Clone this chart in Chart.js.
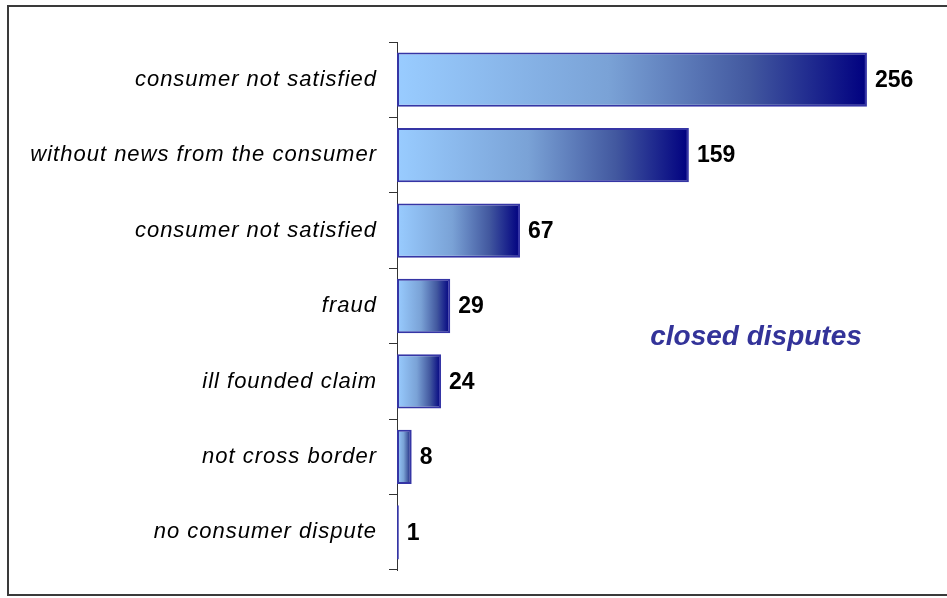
<!DOCTYPE html>
<html>
<head>
<meta charset="utf-8">
<title>closed disputes</title>
<script src="https://cdn.jsdelivr.net/npm/chart.js@4.4.1/dist/chart.umd.min.js"></script>
<style>
  html, body { margin: 0; padding: 0; background: #fff; }
  #wrap { position: relative; width: 947px; height: 598px; overflow: hidden; }
  #frame { position: absolute; left: 7px; top: 5px; width: 950px; height: 587px; border: 2px solid #3a3a3a; pointer-events: none; }
  canvas { position: absolute; left: 0; top: 0; }
</style>
</head>
<body>
<div id="wrap">
  <canvas id="disputesChart" width="947" height="598"></canvas>
  <div id="frame"></div>
</div>
<script>
// categories and counts, top to bottom
const reasons = [
    'consumer not satisfied',
    'without news from the consumer',
    'consumer not satisfied',
    'fraud',
    'ill founded claim',
    'not cross border',
    'no consumer dispute'
];
const counts = [256, 159, 67, 29, 24, 8, 1];
const chartTitle = 'closed disputes';

document.addEventListener('DOMContentLoaded', function () {
    const ctx = document.getElementById('disputesChart').getContext('2d');

    // each bar fades from light blue at its base to navy at its end
    function barGradient(context) {
        const chart = context.chart;
        if (!chart.chartArea) return '#99ccff';
        const x = chart.scales.x;
        const x0 = x.getPixelForValue(0);
        const x1 = x.getPixelForValue(context.raw);
        const g = chart.ctx.createLinearGradient(x0, 0, Math.max(x1, x0 + 1), 0);
        g.addColorStop(0, '#99ccff');
        g.addColorStop(0.45, '#7aa2d6');
        g.addColorStop(0.75, '#42589f');
        g.addColorStop(1, '#000080');
        return g;
    }

    // spaced italic category labels
    const labelSpacing = {
        id: 'labelSpacing',
        beforeDraw(chart) { chart.ctx.letterSpacing = '1px'; },
        beforeDatasetsDraw(chart) { chart.ctx.letterSpacing = '0px'; }
    };

    // value at the end of every bar + caption
    const valueLabels = {
        id: 'valueLabels',
        afterDatasetsDraw(chart) {
            const c = chart.ctx;
            const meta = chart.getDatasetMeta(0);
            c.save();
            c.letterSpacing = '0px';
            c.font = 'bold 23px "Liberation Sans", Arial, sans-serif';
            c.fillStyle = '#000';
            c.textAlign = 'left';
            c.textBaseline = 'middle';
            meta.data.forEach((bar, i) => {
                c.fillText(String(counts[i]), bar.x + 8, bar.y + 1);
            });
            c.font = 'italic bold 28px "Liberation Sans", Arial, sans-serif';
            c.fillStyle = '#333399';
            c.textAlign = 'center';
            c.textBaseline = 'alphabetic';
            c.fillText(chartTitle, 756, 345);
            c.restore();
        }
    };

    new Chart(ctx, {
        type: 'bar',
        data: {
            labels: reasons,
            datasets: [{
                data: counts,
                backgroundColor: barGradient,
                borderColor: '#3535a5',
                borderWidth: 2,
                borderSkipped: false,
                barPercentage: 0.72,
                categoryPercentage: 1
            }]
        },
        options: {
            indexAxis: 'y',
            responsive: false,
            animation: false,
            layout: { padding: { top: 42, bottom: 28, right: 36, left: 0 } },
            plugins: {
                legend: { display: false },
                tooltip: { enabled: false }
            },
            scales: {
                x: { display: false, min: 0, max: 280 },
                y: {
                    afterFit: function (scale) { scale.width = 397; },
                    border: { display: true, color: '#333', width: 1 },
                    grid: { drawOnChartArea: false, drawTicks: true, tickLength: 8, color: '#333', offset: true },
                    ticks: {
                        color: '#000',
                        padding: 12,
                        font: { family: '"Liberation Sans", Arial, sans-serif', size: 22, style: 'italic' }
                    }
                }
            }
        },
        plugins: [labelSpacing, valueLabels]
    });
});
</script>
</body>
</html>
